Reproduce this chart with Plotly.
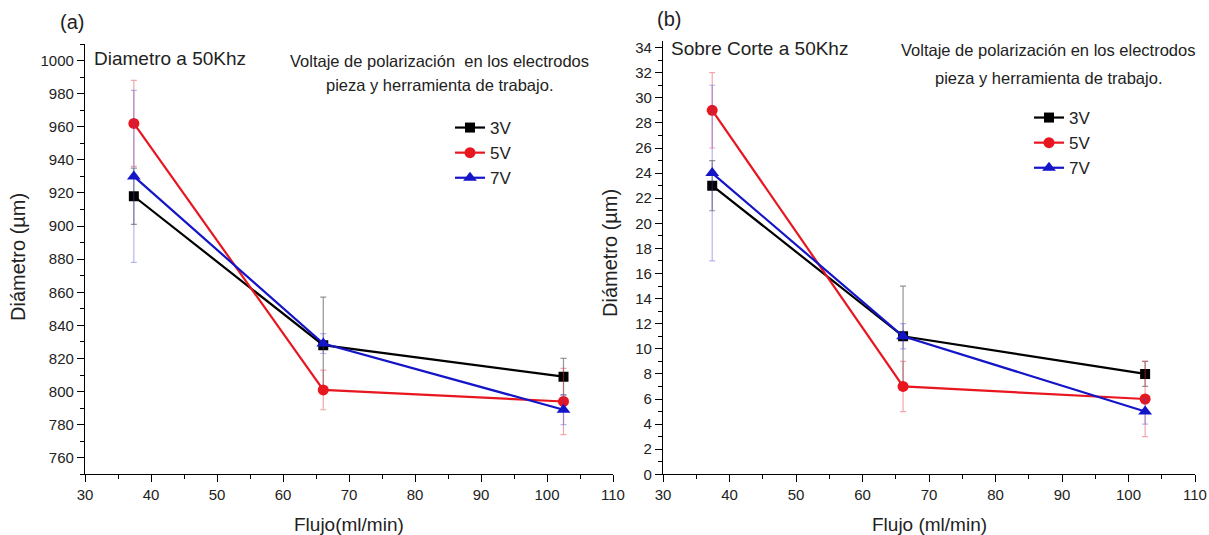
import plotly.graph_objects as go

W, H = 1209, 535

# ---------------- data ----------------
flujo = [37.4, 66.1, 102.5]
series_names = ["3V", "5V", "7V"]

diam_3v = [918, 828, 809]
diam_5v = [962, 801, 794]
diam_7v = [930, 829, 789]
diam_err_3v = [17, 29, 11]
diam_err_5v = [26, 12, 20]
diam_err_7v = [52, 6, 9]

corte_3v = [23, 11, 8]
corte_5v = [29, 7, 6]
corte_7v = [24, 11, 5]
corte_err_3v = [2, 4, 1]
corte_err_5v = [3, 2, 3]
corte_err_7v = [7, 1, 1]

x_ticks = [30, 40, 50, 60, 70, 80, 90, 100, 110]

colors = ["#000000", "#e8161e", "#1515c8"]
err_colors = ["rgba(60,60,60,0.55)", "rgba(225,60,70,0.45)", "rgba(70,70,215,0.40)"]
symbols = ["square", "circle", "triangle-up"]
msizes = [10, 11, 12]

FONT = "Liberation Sans, Arial, sans-serif"


def px(xp):
    return xp / W


def py(yp):
    return 1 - yp / H


fig = go.Figure()

left_sets = [(diam_3v, diam_err_3v), (diam_5v, diam_err_5v), (diam_7v, diam_err_7v)]
right_sets = [(corte_3v, corte_err_3v), (corte_5v, corte_err_5v), (corte_7v, corte_err_7v)]

for i, (vals, errs) in enumerate(left_sets):
    fig.add_trace(go.Scatter(
        x=flujo, y=vals, name=series_names[i], mode="lines+markers",
        line=dict(color=colors[i], width=2.2),
        marker=dict(symbol=symbols[i], size=msizes[i], color=colors[i]),
        error_y=dict(type="data", array=errs, color=err_colors[i], thickness=1.2, width=3),
        xaxis="x", yaxis="y", legend="legend",
    ))

for i, (vals, errs) in enumerate(right_sets):
    fig.add_trace(go.Scatter(
        x=flujo, y=vals, name=series_names[i], mode="lines+markers",
        line=dict(color=colors[i], width=2.2),
        marker=dict(symbol=symbols[i], size=msizes[i], color=colors[i]),
        error_y=dict(type="data", array=errs, color=err_colors[i], thickness=1.2, width=3),
        xaxis="x2", yaxis="y2", legend="legend2",
    ))

axis_common = dict(
    showline=True, linecolor="black", linewidth=1.3, mirror=False,
    ticks="outside", ticklen=7, tickwidth=1.3, tickcolor="black",
    showgrid=False, zeroline=False, automargin=False,
    tickfont=dict(family=FONT, size=15, color="#222"),
)

xaxis_common = dict(axis_common, range=[30, 110], tickvals=x_ticks,
                    minor=dict(ticks="outside", ticklen=4, tickwidth=1.3,
                               tickcolor="black", dtick=5, tick0=30, showgrid=False))

fig.update_layout(
    width=W, height=H,
    margin=dict(l=0, r=0, t=0, b=0),
    paper_bgcolor="white", plot_bgcolor="white",
    font=dict(family=FONT, color="#222"),
    xaxis=dict(xaxis_common, domain=[px(85), px(613)], anchor="y"),
    yaxis=dict(axis_common, domain=[py(474.3), py(44)], range=[750, 1010],
               tick0=760, dtick=20, anchor="x",
               minor=dict(ticks="outside", ticklen=4, tickwidth=1.3,
                          tickcolor="black", dtick=10, tick0=750, showgrid=False)),
    xaxis2=dict(xaxis_common, domain=[px(663), px(1195)], anchor="y2"),
    yaxis2=dict(axis_common, domain=[py(474.3), py(40.7)], range=[0, 34.55],
                tick0=0, dtick=2, anchor="x2",
                minor=dict(ticks="outside", ticklen=4, tickwidth=1.3,
                           tickcolor="black", dtick=1, tick0=0, showgrid=False)),
    legend=dict(x=px(450), y=py(110), xanchor="left", yanchor="top",
                bgcolor="rgba(0,0,0,0)", font=dict(family=FONT, size=17, color="#222"),
                tracegroupgap=0, itemclick=False),
    legend2=dict(x=px(1029), y=py(100), xanchor="left", yanchor="top",
                 bgcolor="rgba(0,0,0,0)", font=dict(family=FONT, size=17, color="#222"),
                 tracegroupgap=0, itemclick=False),
    showlegend=True,
)

annots = [
    ("(a)", 72, 22, "center", 20, 0),
    ("(b)", 669, 19, "center", 20, 0),
    ("Diametro a 50Khz", 92, 59, "left", 19, 0),
    ("Sobre Corte a 50Khz", 669, 49, "left", 19, 0),
    ("Voltaje de polarización  en los electrodos", 439.5, 61, "center", 16.5, 0),
    ("pieza y herramienta de trabajo.", 439.5, 85, "center", 16.5, 0),
    ("Voltaje de polarización en los electrodos", 1048, 50, "center", 16.5, 0),
    ("pieza y herramienta de trabajo.", 1048, 78, "center", 16.5, 0),
    ("Flujo(ml/min)", 349, 524, "center", 19, 0),
    ("Flujo (ml/min)", 929, 524, "center", 19, 0),
    ("Diámetro (µm)", 18, 257, "center", 20, -90),
    ("Diámetro (µm)", 610, 253, "center", 20, -90),
]
for text, xp, yp, anchor, size, angle in annots:
    fig.add_annotation(
        text=text, x=px(xp), y=py(yp), xref="paper", yref="paper",
        xanchor=anchor, yanchor="middle", showarrow=False, textangle=angle,
        font=dict(family=FONT, size=size, color="#222"),
    )

fig.write_html(
    "out.html",
    config={"displayModeBar": False},
    post_script="document.body.style.margin='0';document.body.style.overflow='hidden';",
)
